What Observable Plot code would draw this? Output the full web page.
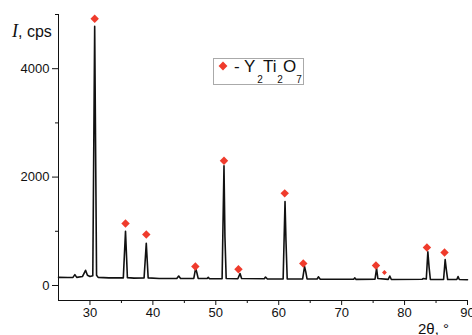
<!DOCTYPE html>
<html><head><meta charset="utf-8">
<script src="https://cdn.jsdelivr.net/npm/d3@7"></script>
<script src="https://cdn.jsdelivr.net/npm/@observablehq/plot@0.6"></script>
<style>
body{margin:0;background:#fff}
#chart svg{font-family:"Liberation Sans",Arial,Helvetica,sans-serif;background:#fff}
</style>
</head><body><div id="chart"></div><script>
// XRD pattern (2θ in degrees, intensity in cps)
const twoTheta = [25.0,26.5,27.3,27.6,27.9,28.8,29.3,29.6,30.0,30.45,30.75,31.05,31.3,33.0,35.3,35.65,35.95,37.0,38.6,38.95,39.25,41.0,43.8,44.1,44.4,46.5,46.8,47.0,47.2,48.6,48.8,49.0,51.0,51.3,51.45,51.65,53.5,53.85,54.1,57.7,57.9,58.2,60.7,61.0,61.15,61.35,63.8,64.1,64.3,64.5,66.1,66.3,66.6,71.9,72.1,72.3,75.3,75.55,75.75,77.4,77.65,77.9,82.8,83.0,83.45,83.7,83.9,84.1,86.2,86.45,86.65,86.85,88.3,88.5,88.7,90.0];
const intensity = [150,148,150,200,150,165,280,190,165,180,4780,190,150,140,140,1000,145,135,140,780,140,130,128,175,130,130,320,230,130,128,150,125,125,2210,900,130,125,220,130,125,155,120,120,1550,830,120,120,350,250,120,120,160,115,115,140,112,115,315,130,112,175,110,115,130,120,620,330,110,110,480,280,110,110,165,110,105];

// Y2Ti2O7 reflection markers
const markTheta = [30.75,35.65,38.95,46.75,51.3,53.6,60.95,63.9,75.45,83.55,86.35];
const markIntensity = [4920,1145,940,350,2300,300,1700,405,370,700,610];
const dashTheta = [76.8];
const dashIntensity = [240];

const xMajorTicks = [30,40,50,60,70,80,90];
const xMinorTicks = [35,45,55,65,75,85];
const yMajorTicks = [0,2000,4000];
const yMinorTicks = [1000,3000,5000];
const yLabelItalic = "I";
const yLabelRest = ", cps";
const xLabel = "2θ, °";
const legendParts = ["- Y","Ti","O"];
const legendSubs = ["2","2","7"];

const pattern = twoTheta.map((t,i)=>({t, v: intensity[i]}));
const marks = markTheta.map((t,i)=>({t, v: markIntensity[i]}));
const dashes = dashTheta.map((t,i)=>({t, v: dashIntensity[i]}));
const red = "#ef3b2c";

const chart = Plot.plot({
  width: 472, height: 335,
  marginLeft: 58, marginRight: 5, marginTop: 14, marginBottom: 35,
  x: {domain: [25, 90]},
  y: {domain: [-277, 5000]},
  style: {fontFamily: '"Liberation Sans",Arial,sans-serif', color: "#111"},
  marks: [
    Plot.axisX({ticks: xMajorTicks, tickSize: 5, tickPadding: 2, fontSize: 13, tickFormat: d => String(d), label: null}),
    Plot.axisX({ticks: xMinorTicks, tickSize: 3, tickFormat: () => "", label: null}),
    Plot.axisY({ticks: yMajorTicks, tickSize: 6, tickPadding: 3, fontSize: 13, tickFormat: d => String(d), label: null}),
    Plot.axisY({ticks: yMinorTicks, tickSize: 3, tickFormat: () => "", label: null}),
    Plot.ruleX([25], {stroke: "#111", strokeWidth: 1}),
    Plot.ruleY([-277], {stroke: "#111", strokeWidth: 1}),
    Plot.line(pattern, {x: "t", y: "v", stroke: "#111", strokeWidth: 1.6}),
    Plot.dot(marks, {x: "t", y: "v", symbol: "diamond2", r: 3.8, fill: red, stroke: null}),
    Plot.dot(dashes, {x: "t", y: "v", symbol: "diamond2", r: 2.2, fill: red, stroke: null})
  ]
});
document.getElementById("chart").appendChild(chart);

const svg = d3.select(chart);
// y-axis label
const yl = svg.append("text").attr("x", 12).attr("y", 37).attr("font-size", 16).attr("text-anchor", "start").attr("fill", "#111");
yl.append("tspan").attr("font-family", '"Liberation Serif","Times New Roman",serif').attr("font-style", "italic").attr("font-size", 18).text(yLabelItalic);
yl.append("tspan").text(yLabelRest);
// x-axis label
svg.append("text").attr("x", 418).attr("y", 334).attr("font-size", 15).attr("text-anchor", "start").attr("fill", "#111").text(xLabel);
// legend
const lg = svg.append("g");
lg.append("rect").attr("x", 213.5).attr("y", 58.5).attr("width", 90).attr("height", 26)
  .attr("fill", "#fff").attr("stroke", "#aaa");
lg.append("path").attr("d", d3.symbol(d3.symbolDiamond2, 50)()).attr("transform", "translate(223,66)").attr("fill", red);
const partX = [234, 263, 283];
legendParts.forEach((p,i)=>lg.append("text").attr("x", partX[i]).attr("y", 72).attr("font-size", 17).attr("text-anchor", "start").attr("fill", "#111").text(p));
const subX = [260, 280, 299];
legendSubs.forEach((s,i)=>lg.append("text").attr("x", subX[i]).attr("y", 83).attr("font-size", 10).attr("text-anchor", "middle").attr("fill", "#111").text(s));
</script></body></html>
